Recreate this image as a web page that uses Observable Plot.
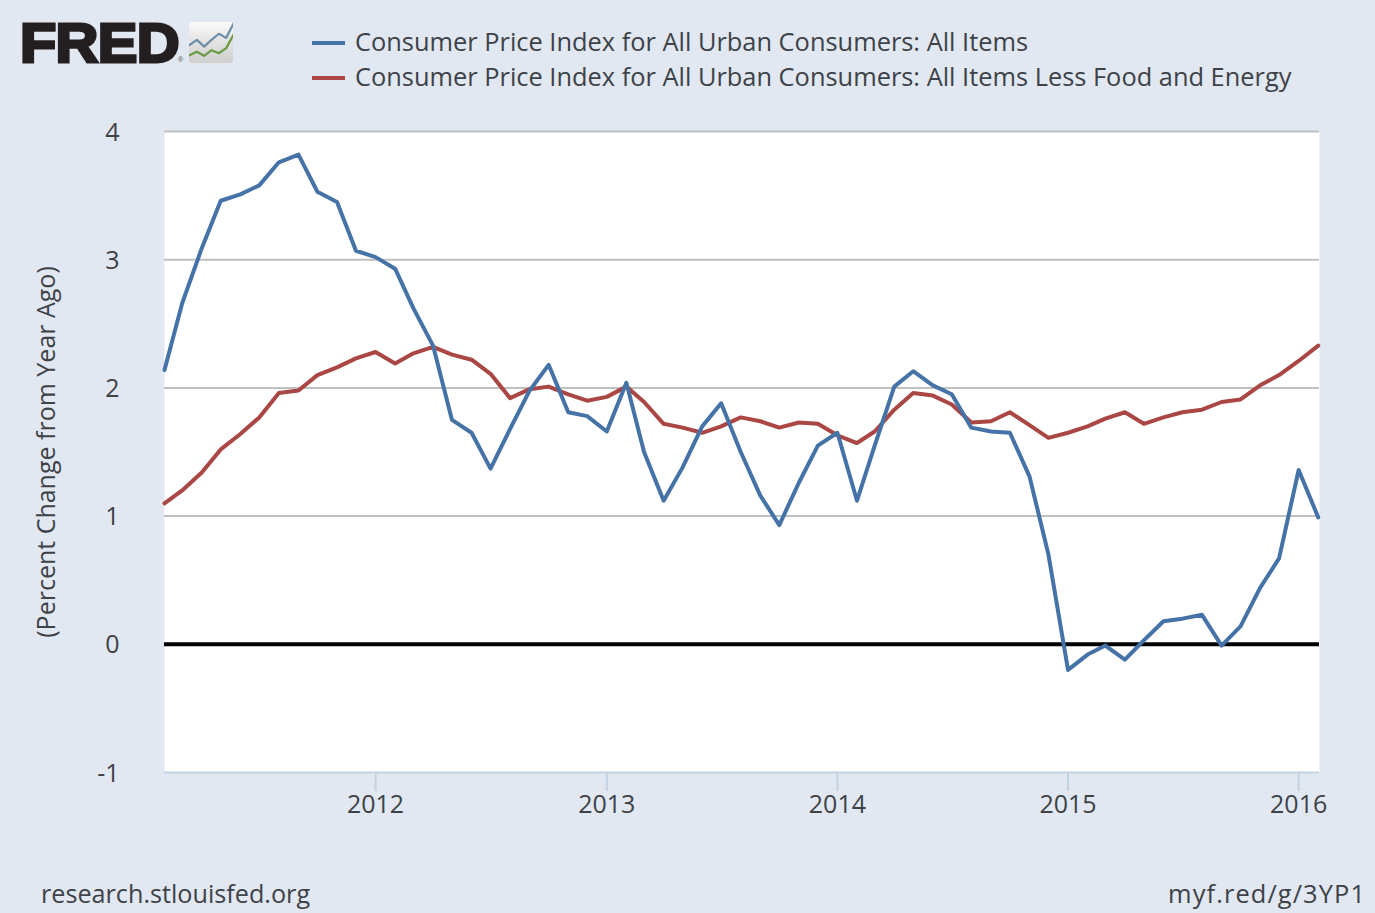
<!DOCTYPE html>
<html>
<head>
<meta charset="utf-8">
<script src="https://cdn.jsdelivr.net/npm/d3@7"></script>
<script src="https://cdn.jsdelivr.net/npm/@observablehq/plot@0.6"></script>
<style>
html,body{margin:0;padding:0;background:#e1e8f1;width:1375px;height:913px;overflow:hidden;font-family:"Open Sans",sans-serif;color:#3d4248}
#chart{position:absolute;left:0;top:0}
.t{position:absolute;white-space:nowrap;font-size:25.4px;line-height:30px}
.sw{position:absolute;left:312px;width:33px;height:4px}
#fred{position:absolute;left:20px;top:23px;font-family:"Liberation Sans",Arial,sans-serif;font-weight:700;font-size:56px;line-height:40px;height:40px;color:#231f20;-webkit-text-stroke:3px #231f20;letter-spacing:-0.6px;transform:scaleX(1.06);transform-origin:left center}
#reg{position:absolute;left:178px;top:56px;width:7px;height:7px;font-size:7px;line-height:7px;color:#555;font-family:"Liberation Sans"}
#icon{position:absolute;left:189px;top:22px;width:44px;height:41px;background:linear-gradient(180deg,#fbfbfb 0%,#e4e4e4 45%,#cfcfcf 100%);border-radius:3px}
#icon svg{display:block}
</style>
</head>
<body>
<div id="chart"></div>
<div id="fred">FRED</div>
<div id="reg">®</div>
<div id="icon"></div>
<div class="sw" style="top:41px;background:#4572a7"></div>
<div class="sw" style="top:76px;background:#aa4643"></div>
<div class="t" style="left:355px;top:26px">Consumer Price Index for All Urban Consumers: All Items</div>
<div class="t" style="left:355px;top:61px">Consumer Price Index for All Urban Consumers: All Items Less Food and Energy</div>
<div class="t" style="left:41px;top:878px;font-size:25.2px">research.stlouisfed.org</div>
<div class="t" style="right:9px;top:878px;letter-spacing:1.1px">myf.red/g/3YP1</div>
<script>
const startMonth = "2011-02-01";
const allItems = [2.14,2.66,3.09,3.46,3.51,3.58,3.76,3.82,3.53,3.45,3.07,3.02,
  2.93,2.62,2.33,1.75,1.65,1.37,1.68,1.98,2.18,1.81,1.78,1.66,
  2.04,1.50,1.12,1.38,1.70,1.88,1.50,1.16,0.93,1.26,1.55,1.65,
  1.12,1.55,2.01,2.13,2.02,1.95,1.69,1.66,1.65,1.31,0.70,-0.20,
  -0.08,-0.01,-0.12,0.03,0.18,0.20,0.23,-0.01,0.14,0.44,0.67,1.36,0.99];
const lessFoodEnergy = [1.10,1.20,1.34,1.52,1.64,1.77,1.96,1.98,2.10,2.16,2.23,2.28,
  2.19,2.27,2.32,2.26,2.22,2.11,1.92,1.99,2.01,1.95,1.90,1.93,
  2.01,1.89,1.72,1.69,1.65,1.70,1.77,1.74,1.69,1.73,1.72,1.63,
  1.57,1.66,1.83,1.96,1.94,1.87,1.73,1.74,1.81,1.71,1.61,1.65,
  1.70,1.76,1.81,1.72,1.77,1.81,1.83,1.89,1.91,2.02,2.10,2.21,2.33];
const gridValues = [1,2,3,4];
const yTicks = [-1,0,1,2,3,4];
const xTickYears = ["2012-01-01","2013-01-01","2014-01-01","2015-01-01","2016-01-01"];
const logoUpper = [3.6,4.6,3.3,4.6,5.8,5,7.8];
const logoLower = [1.6,2.3,1.5,2.6,2,3,5.6];

const months = d3.utcMonth.range(new Date(startMonth), d3.utcMonth.offset(new Date(startMonth), allItems.length));
const xticks = xTickYears.map(d => new Date(d));
const ink = "#3d4248", axisBlue = "#c4d2e2";

const chart = Plot.plot({
  width: 1375, height: 913,
  marginLeft: 164, marginRight: 56, marginTop: 131, marginBottom: 141,
  style: {background: "transparent", fontFamily: "'Open Sans',sans-serif", overflow: "visible"},
  x: {type: "utc", domain: [months[0], new Date("2016-02-03")]},
  y: {domain: [-1, 4]},
  marks: [
    Plot.frame({fill: "white", stroke: null}),
    Plot.ruleY(gridValues, {stroke: "#c0c0c0", strokeWidth: 2}),
    Plot.ruleY([-1], {stroke: axisBlue, strokeWidth: 2}),
    Plot.axisX({ticks: xticks, tickSize: 19, tickPadding: 4, stroke: axisBlue, strokeWidth: 2, strokeOpacity: 1,
      fontSize: 25, fill: ink, label: null, tickFormat: d3.utcFormat("%Y")}),
    Plot.axisY({ticks: yTicks, tickSize: 0, tickPadding: 45, fontSize: 25, fill: ink, dy: 1,
      tickFormat: d => String(d), label: "(Percent Change from Year Ago)", labelArrow: "none",
      labelAnchor: "center", labelOffset: 127}),
    Plot.ruleY([0], {stroke: "#000", strokeWidth: 4}),
    Plot.line(months, {x: d => d, y: (d, i) => lessFoodEnergy[i], stroke: "#aa4643", strokeWidth: 4, curve: "linear"}),
    Plot.line(months, {x: d => d, y: (d, i) => allItems[i], stroke: "#4572a7", strokeWidth: 4, curve: "linear"})
  ]
});
document.getElementById("chart").append(chart);

const idx = d3.range(logoUpper.length);
document.getElementById("icon").append(Plot.plot({
  width: 44, height: 41, margin: 0, axis: null,
  style: {background: "transparent"},
  x: {domain: [0, logoUpper.length - 1]}, y: {domain: [0, 8]},
  marks: [
    Plot.line(idx, {x: d => d, y: i => logoUpper[i], stroke: "#6f8fa8", strokeWidth: 2.2}),
    Plot.line(idx, {x: d => d, y: i => logoLower[i], stroke: "#6c9a45", strokeWidth: 2.2})
  ]
}));
</script>
</body>
</html>
